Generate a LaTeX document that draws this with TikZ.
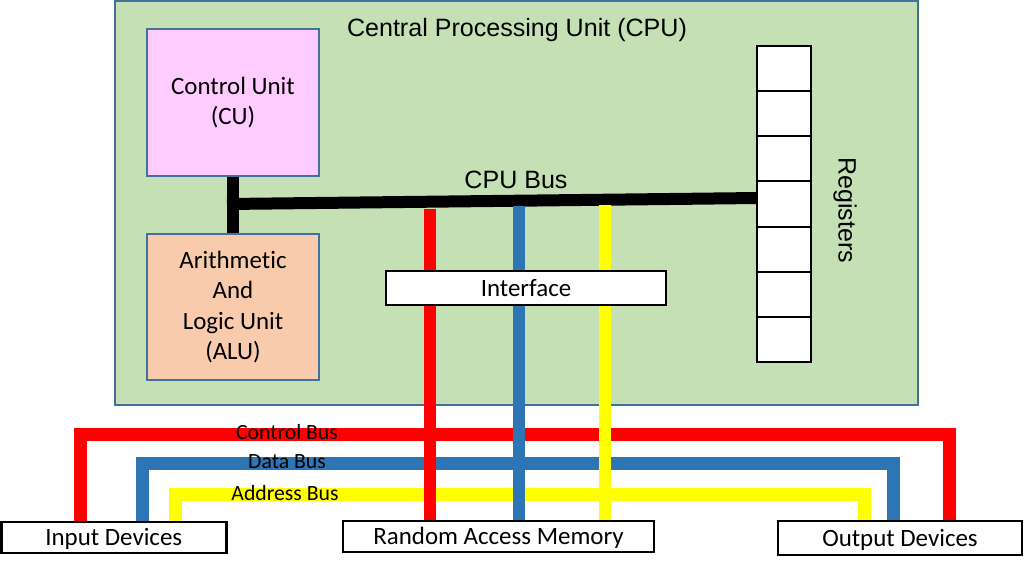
\documentclass[tikz,border=0pt]{standalone}
\usepackage{fontspec}
\setmainfont{Carlito}[Ligatures=NoCommon]
\newfontfamily\arialfont{Liberation Sans}
\usepackage{xcolor}
\definecolor{cpugreen}{HTML}{C5E0B4}
\definecolor{edgeblue}{HTML}{41719C}
\definecolor{cupink}{HTML}{FFCCFF}
\definecolor{alupeach}{HTML}{F8CBAD}
\definecolor{busred}{HTML}{FF0000}
\definecolor{busblue}{HTML}{2E75B6}
\definecolor{busyellow}{HTML}{FFFF00}

\begin{document}
\begin{tikzpicture}[x=0.75pt,y=-0.75pt,
	unit/.style={draw=edgeblue, line width=1.5pt, inner sep=0pt, align=center, font=\fontsize{18.7}{22.8}\selectfont},
	plainbox/.style={draw=black, line width=2pt, fill=white, inner sep=0pt, text height=14.5pt, text depth=2pt, font=\fontsize{18.7}{22}\selectfont},
	regcell/.style={draw=black, line width=1.5pt, fill=white, minimum width=40.5pt, minimum height=33.86pt},
	arialtext/.style={font={\arialfont\fontsize{18.8}{22}\selectfont}, inner sep=0pt},
	wire/.style={line width=9pt},
	sysbus/.style={line width=9.75pt},
	buslabel/.style={font=\fontsize{16.3}{19}\selectfont, inner sep=0pt}]
	\useasboundingbox (0,0) rectangle (1024,568);
	
	\node[unit, fill=cpugreen, minimum width=602.25pt, minimum height=303pt] (cpu) at (516.5,203) {};
	\node[arialtext] (cputitle) at (517,30) {Central Processing Unit (CPU)};
	
	\node[unit, fill=cupink, minimum width=129pt, minimum height=110.25pt] (cu) at (233,102.5) {Control Unit\\(CU)};
	\node[unit, fill=alupeach, minimum width=129pt, minimum height=109.5pt] (alu) at (233,307) {Arithmetic\\And\\Logic Unit\\(ALU)};
	
	\foreach \i in {0,...,6}
		\node[regcell] (reg\i) at (784,{68.6+45.14*\i}) {};
	\node[arialtext, rotate=-90] (reglabel) at (845,210) {Registers};
	
	% cpu bus
	\coordinate (busL) at (233,204);
	\draw[wire] (cu.south) -- (alu.north);
	\draw[wire] ([xshift=-4.5pt]busL) -- ([yshift=4.5pt]reg3.west);
	\node[arialtext] (buslbl) at (516,180) {CPU Bus};
	
	% system buses
	\coordinate (ctlL) at (80,434);
	\coordinate (ctlR) at (949,434);
	\coordinate (datL) at (142,463);
	\coordinate (datR) at (893,463);
	\coordinate (adrL) at (175,494);
	\coordinate (adrR) at (864,494);
	\node[plainbox, minimum width=168.75pt, minimum height=23.25pt] (in) at (113.75,537.5) {Input Devices};
	\node[plainbox, minimum width=233.25pt, minimum height=23.25pt] (ram) at (498.5,536.5) {Random Access Memory};
	\node[plainbox, minimum width=183pt, minimum height=25.5pt] (out) at (900,538) {Output Devices};
	
	\draw[sysbus, busred] (in.north -| ctlL) -- (ctlL) -- (ctlR) -- (out.north -| ctlR);
	\draw[sysbus, busblue] (in.north -| datL) -- (datL) -- (datR) -- (out.north -| datR);
	\draw[sysbus, busyellow] (in.north -| adrL) -- (adrL) -- (adrR) -- (out.north -| adrR);
	
	\coordinate (ctlT) at (430,209);
	\coordinate (datT) at (519,206);
	\coordinate (adrT) at (605,205);
	\draw[wire, busred] (ctlT) -- (ram.north -| ctlT);
	\draw[wire, busblue] (datT) -- (ram.north -| datT);
	\draw[wire, busyellow] (adrT) -- (ram.north -| adrT);
	
	\node[plainbox, minimum width=210pt, minimum height=25.5pt] (intf) at (526,288) {Interface};
	
	\node[buslabel] (ctllbl) at (287,432) {Control Bus};
	\node[buslabel] (datlbl) at (287,462) {Data Bus};
	\node[buslabel] (adrlbl) at (285,493) {Address Bus};
	
\end{tikzpicture}
\end{document}
